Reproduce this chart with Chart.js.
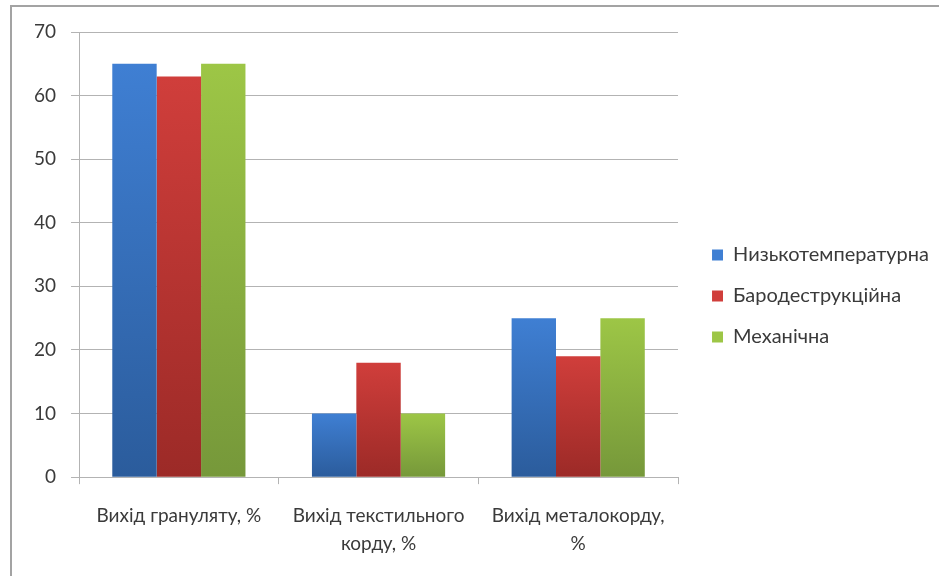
<!DOCTYPE html>
<html>
<head>
<meta charset="utf-8">
<script src="https://cdn.jsdelivr.net/npm/chart.js@4"></script>
<style>
  html, body { margin: 0; padding: 0; background: #fff; }
  #wrap { width: 939px; height: 576px; }
</style>
</head>
<body>
<div id="wrap"><canvas id="myChart" width="939" height="576"></canvas></div>
<script>
// Categorías (se parten en dos líneas como en el original)
const categories = [
  "Вихід грануляту, %",
  ["Вихід текстильного", "корду, %"],
  ["Вихід металокорду,", "%"],
];

// Series
const seriesNames = ["Низькотемпературна", "Бародеструкційна", "Механічна"];
const lowTemp = [65, 10, 25];
const baroDestr = [63, 18, 19];
const mechanical = [65, 10, 25];

// Colores: arriba claro, abajo oscuro
const topColors = ["#3f7fd3", "#d03e3b", "#9dc646"];
const bottomColors = ["#2b5c9c", "#9c2a27", "#76983a"];

const yTicks = [0, 10, 20, 30, 40, 50, 60, 70];

const FONT = "Lato";
const TEXT = "#3a3a3a";
const GRID = "#b3b3b3";
const LEGEND_DX = 13; // separación extra entre el gráfico y la leyenda
const LEGEND_DY = -8;

// Degradado vertical por barra
function barGradient(i) {
  return (ctx) => {
    const chart = ctx.chart;
    const y = chart.scales && chart.scales.y;
    if (!chart.chartArea || !y || ctx.raw == null) return topColors[i];
    const top = y.getPixelForValue(ctx.raw);
    const bottom = y.getPixelForValue(0);
    const g = chart.ctx.createLinearGradient(0, top, 0, bottom);
    g.addColorStop(0, topColors[i]);
    g.addColorStop(1, bottomColors[i]);
    return g;
  };
}

// Marco gris alrededor del gráfico
const frame = {
  id: "frame",
  beforeDraw(chart) {
    const c = chart.ctx;
    c.save();
    c.strokeStyle = "#a3a3a3";
    c.lineWidth = 2;
    c.beginPath();
    c.moveTo(11, chart.height);
    c.lineTo(11, 6);
    c.lineTo(chart.width, 6);
    c.stroke();
    c.restore();
  },
};

// Reubicar la leyenda
const legendShift = {
  id: "legendShift",
  afterLayout(chart) {
    const lg = chart.legend;
    if (lg) {
      lg.left += LEGEND_DX;
      lg.right += LEGEND_DX;
      lg.top += LEGEND_DY;
      lg.bottom += LEGEND_DY;
    }
  },
};

const data = [lowTemp, baroDestr, mechanical];

new Chart(document.getElementById("myChart"), {
  type: "bar",
  data: {
    labels: categories,
    datasets: seriesNames.map((name, i) => ({
      label: name,
      data: data[i],
      backgroundColor: barGradient(i),
      borderWidth: 0,
      barPercentage: 1,
      categoryPercentage: 0.667,
    })),
  },
  options: {
    responsive: false,
    animation: false,
    devicePixelRatio: 1,
    layout: { padding: { left: 19, top: 32, right: 13, bottom: 0 } },
    plugins: {
      tooltip: { enabled: false },
      legend: {
        position: "right",
        align: "center",
        maxWidth: 320,
        labels: {
          font: { family: FONT, size: 20 },
          color: TEXT,
          boxWidth: 11,
          boxHeight: 11,
          padding: 21,
          generateLabels(chart) {
            return chart.data.datasets.map((ds, i) => ({
              text: ds.label,
              fillStyle: topColors[i],
              strokeStyle: topColors[i],
              lineWidth: 0,
              fontColor: TEXT,
              datasetIndex: i,
            }));
          },
        },
      },
    },
    scales: {
      x: {
        offset: true,
        grid: {
          display: true,
          offset: true,
          drawOnChartArea: false,
          drawTicks: true,
          tickLength: 7,
          color: GRID,
        },
        border: { display: true, color: GRID, width: 1 },
        ticks: {
          font: { family: FONT, size: 19, lineHeight: 1.47 },
          color: TEXT,
          padding: 18,
          maxRotation: 0,
          autoSkip: false,
        },
      },
      y: {
        min: 0,
        max: 70,
        afterBuildTicks(axis) {
          axis.ticks = yTicks.map((v) => ({ value: v }));
        },
        grid: {
          color: GRID,
          tickLength: 8,
          lineWidth: 1,
        },
        border: { display: true, color: GRID, width: 1 },
        ticks: {
          font: { family: FONT, size: 19 },
          color: TEXT,
          padding: 15,
        },
      },
    },
  },
  plugins: [frame, legendShift],
});
</script>
</body>
</html>
